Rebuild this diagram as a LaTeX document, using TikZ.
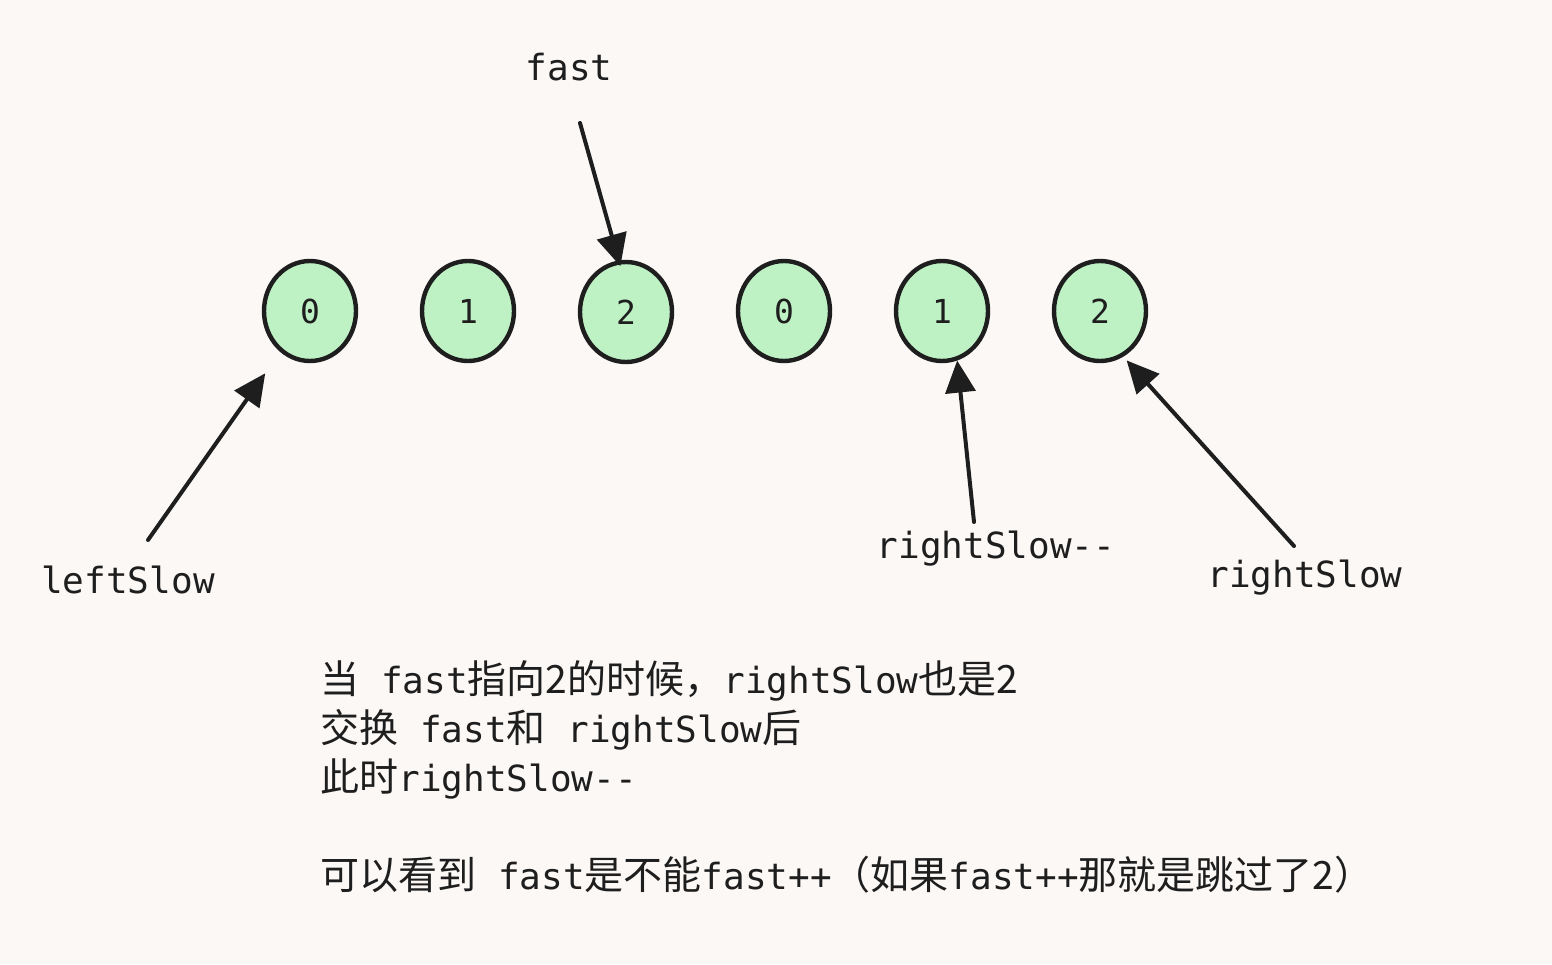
\documentclass[tikz,border=0pt]{standalone}
\usepackage{fontspec}
\setmainfont{DejaVu Sans Mono}[Ligatures=TeXOff]
\newfontfamily\cjkfont{Noto Sans CJK SC}
\newcommand{\zh}[1]{{\cjkfont\fontsize{19.5}{19.5}\selectfont #1}}
\usetikzlibrary{shapes.geometric,arrows.meta}
\definecolor{bg}{RGB}{251,248,246}
\definecolor{ink}{RGB}{30,30,30}
\definecolor{mint}{RGB}{190,242,196}
\begin{document}
\begin{tikzpicture}[x=0.5pt,y=-0.5pt,
  val/.style={ellipse, draw=ink, fill=mint, line width=2.2pt, minimum width=46pt, minimum height=50pt, inner sep=0pt, font=\fontsize{16.5}{16.5}\selectfont, text=ink},
  lbl/.style={font=\fontsize{18}{18}\selectfont, text=ink, inner sep=0pt},
  ptr/.style={draw=ink, line width=2pt, line cap=round, -{Triangle[length=16pt,width=15pt]}},
]
\fill[bg] (0,0) rectangle (1552,964);
\useasboundingbox (0,0) rectangle (1552,964);

\node[val] (c1) at (310,311) {0};
\node[val] (c2) at (468,311) {1};
\node[val] (c3) at (626,312) {2};
\node[val] (c4) at (784,311) {0};
\node[val] (c5) at (942,311) {1};
\node[val] (c6) at (1100,311) {2};

\node[lbl, anchor=base] (lfast) at (569,80) {fast};
\node[lbl, anchor=base] (lleft) at (128,593) {leftSlow};
\node[lbl, anchor=base] (lrdec) at (996,558) {rightSlow--};
\node[lbl, anchor=base] (lright) at (1305,587) {rightSlow};

\coordinate (sfast) at (580,123);
\coordinate (sleft) at (148,540);
\coordinate (srdec) at (974,522);
\coordinate (sright) at (1294,546);

\draw[ptr, shorten >=-3pt] (sfast) -- (c3.98);
\draw[ptr, shorten >=13pt] (sleft) -- (c1.234);
\draw[ptr] (srdec) -- (c5.-73);
\draw[ptr, shorten >=2.5pt] (sright) -- (c6.-63);

\node[lbl, anchor=base west] (t1) at (320,693) {\zh{当} fast\zh{指向2的时候，}rightSlow\zh{也是2}};
\node[lbl, anchor=base west] (t2) at (320,742) {\zh{交换} fast\zh{和} rightSlow\zh{后}};
\node[lbl, anchor=base west] (t3) at (320,791) {\zh{此时}rightSlow--};
\node[lbl, anchor=base west] (t4) at (320,889) {\zh{可以看到} fast\zh{是不能}fast++\zh{（如果}fast++\zh{那就是跳过了2）}};
\end{tikzpicture}
\end{document}
